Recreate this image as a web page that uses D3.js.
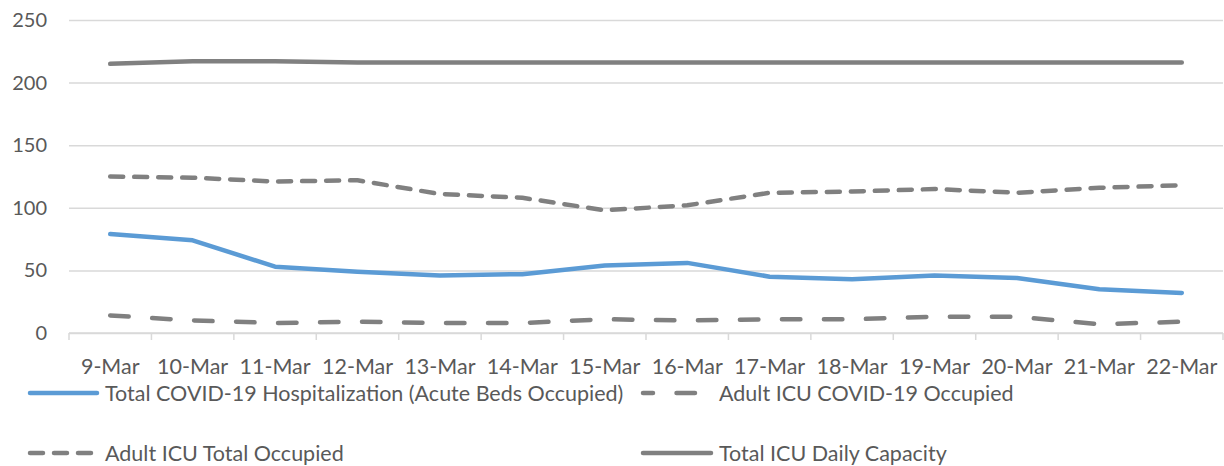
<!DOCTYPE html>
<html>
<script src="https://d3js.org/d3.v7.min.js"></script>

<head>
    <style>
        body {
            margin: 0;
            background-color: #ffffff;
            font-family: Lato, "Open Sans", sans-serif;
        }
    </style>
</head>

<body>
</body>
<script>
    const width = 1224,
        height = 466;
    const margin = { top: 20, right: 1, bottom: 133, left: 69 };

    const dates = ["9-Mar", "10-Mar", "11-Mar", "12-Mar", "13-Mar", "14-Mar", "15-Mar",
        "16-Mar", "17-Mar", "18-Mar", "19-Mar", "20-Mar", "21-Mar", "22-Mar"];
    const hospitalized = [79, 74, 53, 49, 46, 47, 54, 56, 45, 43, 46, 44, 35, 32];
    const icuCovid = [14, 10, 8, 9, 8, 8, 11, 10, 11, 11, 13, 13, 7, 9];
    const icuTotal = [125, 124, 121, 122, 111, 108, 98, 102, 112, 113, 115, 112, 116, 118];
    const icuCapacity = [215, 217, 217, 216, 216, 216, 216, 216, 216, 216, 216, 216, 216, 216];
    const yTicks = [0, 50, 100, 150, 200, 250];

    const series = [
        { name: "Total COVID-19 Hospitalization (Acute Beds Occupied)", values: hospitalized, color: "#5b9bd5", dash: null },
        { name: "Adult ICU COVID-19 Occupied", values: icuCovid, color: "#808080", dash: "18.5,23.5" },
        { name: "Adult ICU Total Occupied", values: icuTotal, color: "#808080", dash: "13,11" },
        { name: "Total ICU Daily Capacity", values: icuCapacity, color: "#808080", dash: null }
    ];

    const svg = d3.select("body").append("svg").attr("width", width).attr("height", height);

    const x = d3.scaleBand().domain(dates).range([margin.left, width - margin.right]);
    const y = d3.scaleLinear().domain([0, 250]).range([height - margin.bottom, margin.top]);

    // gridlines + y labels
    const yAxis = svg.append("g")
        .attr("transform", `translate(${margin.left},0)`)
        .call(d3.axisLeft(y).tickValues(yTicks).tickSize(-(width - margin.left - margin.right)).tickPadding(22));
    yAxis.select(".domain").remove();
    yAxis.selectAll("line").attr("stroke", "#d9d9d9").attr("stroke-width", 1.5);
    yAxis.selectAll("text").attr("fill", "#595959").attr("font-size", "20px").attr("font-family", "Lato, sans-serif");

    // x axis with boundary ticks
    const x0 = y(0);
    svg.append("line")
        .attr("x1", margin.left).attr("x2", width - margin.right)
        .attr("y1", x0).attr("y2", x0)
        .attr("stroke", "#d9d9d9").attr("stroke-width", 1.5);
    const bounds = dates.map(d => x(d)).concat([x(dates[dates.length - 1]) + x.bandwidth()]);
    svg.selectAll(".xtick").data(bounds).join("line")
        .attr("x1", d => d).attr("x2", d => d)
        .attr("y1", x0).attr("y2", x0 + 7)
        .attr("stroke", "#d9d9d9").attr("stroke-width", 1.5);
    svg.selectAll(".xlabel").data(dates).join("text")
        .attr("x", d => x(d) + x.bandwidth() / 2)
        .attr("y", x0 + 36)
        .attr("text-anchor", "middle")
        .attr("dominant-baseline", "middle")
        .attr("fill", "#595959")
        .attr("font-size", "21.5px")
        .text(d => d);

    const line = d3.line()
        .x((d, i) => x(dates[i]) + x.bandwidth() / 2)
        .y(d => y(d));

    series.forEach(s => {
        svg.append("path")
            .attr("d", line(s.values))
            .attr("fill", "none")
            .attr("stroke", s.color)
            .attr("stroke-width", 4.5)
            .attr("stroke-linecap", "round")
            .attr("stroke-linejoin", "round")
            .attr("stroke-dasharray", s.dash);
    });

    // legend
    const legendPos = [
        { x1: 30, x2: 97, tx: 105, ly: 393, off: 0 },
        { x1: 643, x2: 705, tx: 719, ly: 393, off: 8.5 },
        { x1: 30, x2: 91, tx: 105, ly: 453, off: 0 },
        { x1: 643, x2: 711, tx: 719, ly: 453, off: 0 }
    ];
    series.forEach((s, i) => {
        const p = legendPos[i];
        svg.append("line")
            .attr("x1", p.x1).attr("x2", p.x2)
            .attr("y1", p.ly).attr("y2", p.ly)
            .attr("stroke", s.color)
            .attr("stroke-width", 4.5)
            .attr("stroke-linecap", "round")
            .attr("stroke-dasharray", s.dash)
            .attr("stroke-dashoffset", p.off);
        svg.append("text")
            .attr("x", p.tx)
            .attr("y", p.ly + 2.5)
            .attr("dominant-baseline", "middle")
            .attr("fill", "#595959")
            .attr("font-size", "21.5px")
            .text(s.name);
    });
</script>

</html>
